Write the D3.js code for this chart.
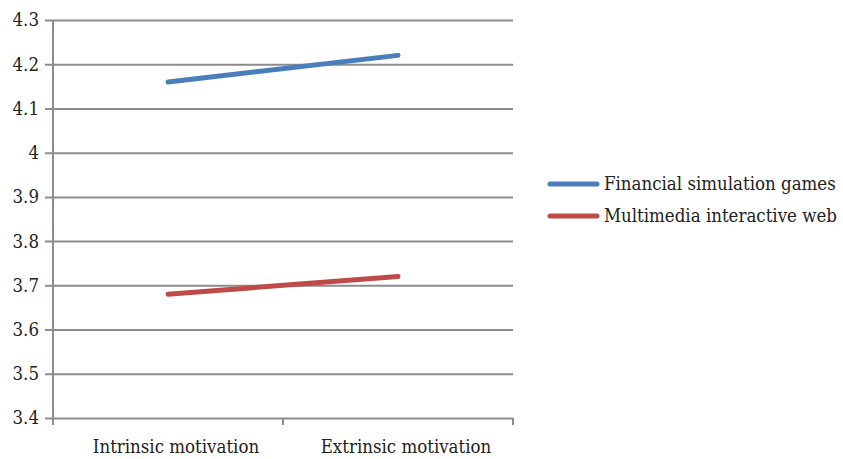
<!DOCTYPE html>
<html>
<head>
<meta charset="utf-8">
<script src="https://cdn.jsdelivr.net/npm/d3@7"></script>
<style>
  body { margin: 0; background: #fff; }
  text { font-family: "DejaVu Serif Condensed", "DejaVu Serif", serif; font-stretch: condensed; fill: #222; }
</style>
</head>
<body>
<div id="chart"></div>
<script>
// chart data
var categories = ["Intrinsic motivation", "Extrinsic motivation"];
var seriesNames = ["Financial simulation games", "Multimedia interactive web"];
var financialValues = [4.16, 4.22];
var multimediaValues = [3.68, 3.72];
var yTicks = [3.4, 3.5, 3.6, 3.7, 3.8, 3.9, 4, 4.1, 4.2, 4.3];
var seriesColors = ["#4a7ebb", "#be4b48"];

var svgWidth = 843, svgHeight = 459;
var margin = { top: 20, left: 53, right: 330, bottom: 41 };
var width = svgWidth - margin.left - margin.right;
var height = svgHeight - margin.top - margin.bottom;

var svg = d3.select("#chart")
  .append("svg")
  .attr("width", svgWidth)
  .attr("height", svgHeight);

var chartGroup = svg.append("g")
  .attr("transform", `translate(${margin.left}, ${margin.top})`);

var xScale = d3.scaleBand()
  .domain(categories)
  .range([0, width]);

var yScale = d3.scaleLinear()
  .domain([3.4, 4.3])
  .range([height, 0]);

// gridlines + y ticks
var yAxis = d3.axisLeft(yScale)
  .tickValues(yTicks)
  .tickSize(-width - 8)
  .tickFormat(d => d3.format("")(d));

var yG = chartGroup.append("g")
  .call(yAxis);
yG.select(".domain").remove();
yG.selectAll(".tick line")
  .attr("x1", -8).attr("x2", width)
  .attr("stroke", "#8c8c8c").attr("stroke-width", 2);
yG.selectAll(".tick text")
  .attr("x", -14)
  .style("font-size", "18.5px");

// y axis line
chartGroup.append("line")
  .attr("x1", 0).attr("x2", 0)
  .attr("y1", 0).attr("y2", height)
  .attr("stroke", "#8c8c8c").attr("stroke-width", 2);

// x axis
var xAxis = d3.axisBottom(xScale).tickSize(0);
var xG = chartGroup.append("g")
  .attr("transform", `translate(0, ${height})`)
  .call(xAxis);
xG.select(".domain").remove();
xG.selectAll(".tick text")
  .attr("y", 22)
  .attr("dx", 8)
  .style("font-size", "18.5px");

// category boundary ticks
var boundaries = [0].concat(categories.map(c => xScale(c) + xScale.bandwidth()));
chartGroup.selectAll(".xbound")
  .data(boundaries)
  .enter()
  .append("line")
  .attr("x1", d => d).attr("x2", d => d)
  .attr("y1", height).attr("y2", height + 7)
  .attr("stroke", "#8c8c8c").attr("stroke-width", 2);

// lines
var allSeries = [financialValues, multimediaValues];
var line = d3.line()
  .x((d, i) => xScale(categories[i]) + xScale.bandwidth() / 2)
  .y(d => yScale(d));

chartGroup.selectAll(".series")
  .data(allSeries)
  .enter()
  .append("path")
  .attr("d", d => line(d))
  .attr("fill", "none")
  .attr("stroke", (d, i) => seriesColors[i])
  .attr("stroke-width", 5)
  .attr("stroke-linecap", "round");

// legend
var legend = svg.append("g")
  .attr("transform", "translate(550, 184)");

var items = legend.selectAll("g")
  .data(seriesNames)
  .enter()
  .append("g")
  .attr("transform", (d, i) => `translate(0, ${i * 32})`);

items.append("line")
  .attr("x1", 0).attr("x2", 47)
  .attr("stroke", (d, i) => seriesColors[i])
  .attr("stroke-width", 5)
  .attr("stroke-linecap", "round");

items.append("text")
  .attr("x", 54)
  .attr("dy", "0.35em")
  .style("font-size", "18.5px")
  .text(d => d);
</script>
</body>
</html>
